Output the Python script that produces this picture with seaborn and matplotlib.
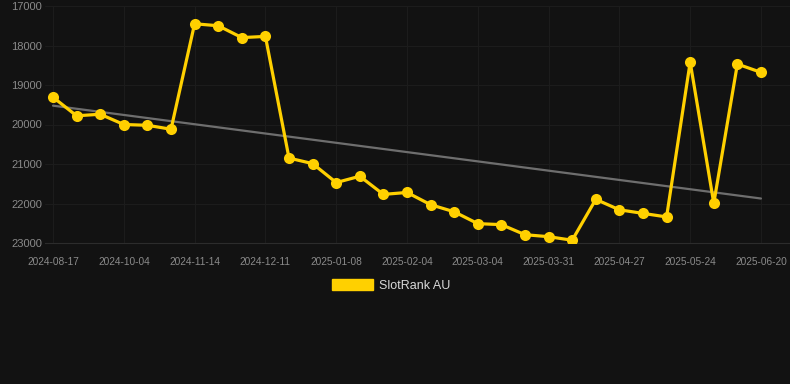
import numpy as np
import pandas as pd
import matplotlib
matplotlib.use("Agg")
import matplotlib.pyplot as plt
from matplotlib.patches import Patch
import seaborn as sns

# dates on the category axis (every point), labels shown every 3rd
dates = [
    "2024-08-17", "2024-08-31", "2024-09-14", "2024-10-04", "2024-10-18", "2024-10-31",
    "2024-11-14", "2024-11-23", "2024-12-02", "2024-12-11", "2024-12-20", "2024-12-29",
    "2025-01-08", "2025-01-17", "2025-01-26", "2025-02-04", "2025-02-13", "2025-02-22",
    "2025-03-04", "2025-03-13", "2025-03-22", "2025-03-31", "2025-04-09", "2025-04-18",
    "2025-04-27", "2025-05-06", "2025-05-15", "2025-05-24", "2025-06-02", "2025-06-11",
    "2025-06-20",
]
ranks = [
    19310, 19780, 19740, 20000, 20020, 20120,
    17450, 17500, 17800, 17770, 20850, 20990,
    21470, 21310, 21770, 21720, 22030, 22210,
    22510, 22535, 22790, 22840, 22930, 21895,
    22160, 22250, 22340, 18420, 21995, 18470,
    18680,
]
series_name = "SlotRank AU"
y_ticks = [17000, 18000, 19000, 20000, 21000, 22000, 23000]

df = pd.DataFrame({"date": dates, "rank": ranks})
df["idx"] = np.arange(len(df))

bg = "#121212"
grid_c = "#1c1c1c"
text_c = "#8a8a8a"
gold = "#FFD000"

sns.set_style("dark")
plt.rcParams["font.family"] = ["Liberation Sans", "DejaVu Sans"]

fig = plt.figure(figsize=(7.9, 3.84), dpi=100, facecolor=bg)
ax = fig.add_axes([45 / 790, 1 - 243 / 384, 745 / 790, 237 / 384])
ax.set_facecolor(bg)

# trend line (least squares over the points)
slope, icept = np.polyfit(df["idx"], df["rank"], 1)
ax.plot(df["idx"], slope * df["idx"] + icept, color="#6e6e6e", lw=1.6, zorder=2)

sns.lineplot(data=df, x="idx", y="rank", ax=ax, color=gold, lw=2.3,
             marker="o", markersize=8, markeredgewidth=0, legend=False,
             zorder=3)

ax.set_ylim(23000, 17000)
ax.set_xlim(-0.34, 31.23)
ax.set_yticks(y_ticks)
ax.set_yticklabels([str(v) for v in y_ticks])
ax.set_xticks(df["idx"][::3])
ax.set_xticklabels(df["date"][::3])

ax.grid(True, color=grid_c, lw=0.8)
ax.tick_params(axis="y", colors=text_c, labelsize=8, length=0, pad=2)
ax.tick_params(axis="x", colors=grid_c, labelcolor=text_c, labelsize=7.3,
               length=6, width=0.8, pad=4)
for s in ["top", "right", "left"]:
    ax.spines[s].set_visible(False)
ax.spines["bottom"].set_color("#2c2c2c")
ax.set_xlabel("")
ax.set_ylabel("")

leg = ax.legend(handles=[Patch(color=gold, label=series_name)], loc="upper center",
                bbox_to_anchor=(0.465, -0.105), frameon=False, fontsize=9,
                handlelength=3.3, handleheight=0.9, handletextpad=0.5)
for t in leg.get_texts():
    t.set_color("#d8d8d8")

fig.savefig("out.png", dpi=100, facecolor=bg)
